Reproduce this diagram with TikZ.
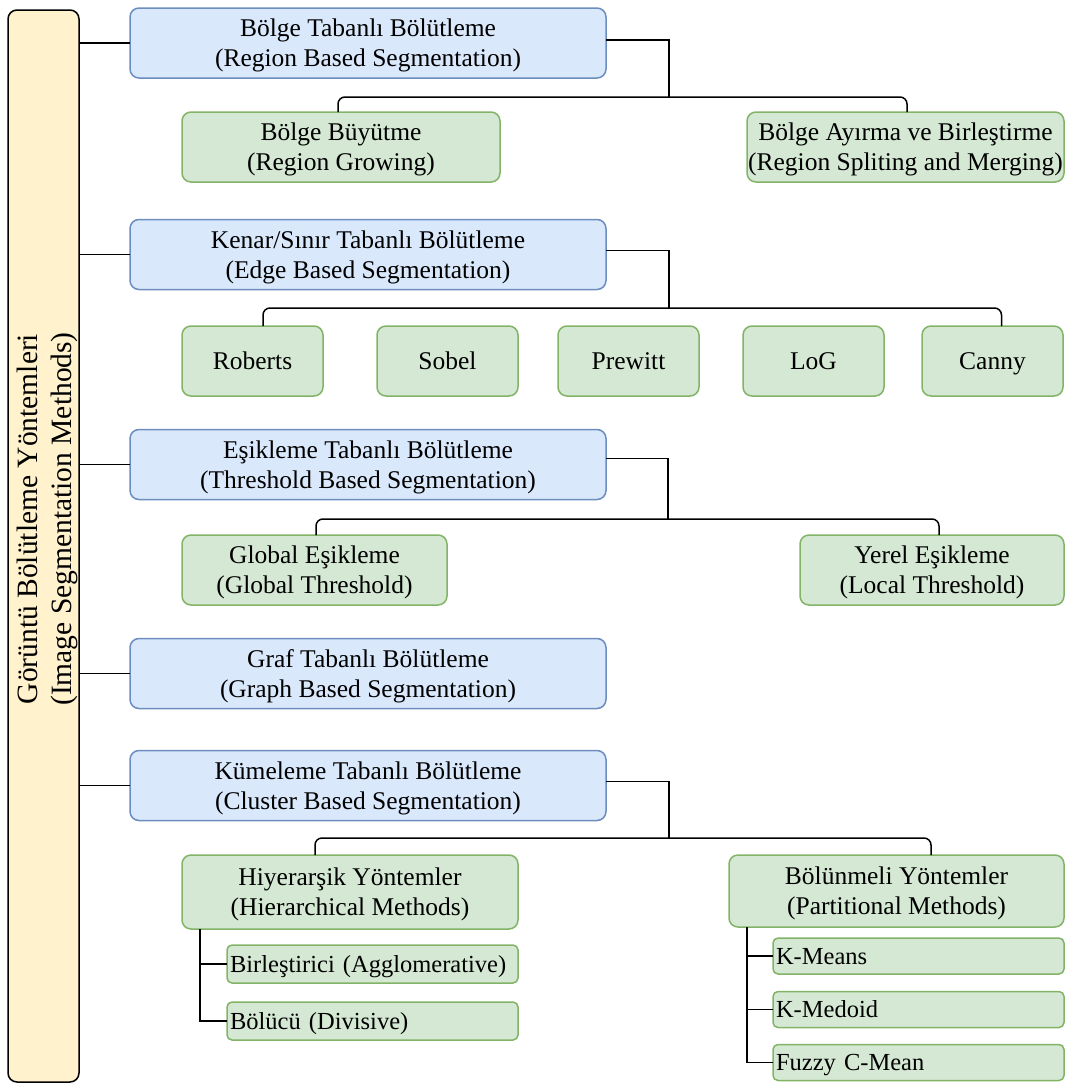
\documentclass[tikz,border=0pt]{standalone}
\usepackage{fontspec}
\setmainfont{Liberation Serif}
\definecolor{bluefill}{HTML}{DAE8FC}
\definecolor{bluedraw}{HTML}{6C8EBF}
\definecolor{greenfill}{HTML}{D5E8D4}
\definecolor{greendraw}{HTML}{82B366}
\definecolor{barfill}{HTML}{FFF2CC}
\tikzset{
  base/.style={rounded corners=9pt, line width=1.5pt, inner sep=0pt, outer sep=0pt,
    align=center, font=\fontsize{25.5}{30}\selectfont, text height=47.5pt, text depth=0pt},
  oneline/.style={text height=17.5pt, text depth=0pt},
  bluebox/.style={base, fill=bluefill, draw=bluedraw, minimum width=476pt, minimum height=70pt},
  greenbox/.style={base, fill=greenfill, draw=greendraw, minimum height=70pt},
  leafbox/.style={base, fill=greenfill, draw=greendraw, rounded corners=5pt, anchor=west,
    align=left, inner xsep=3pt, text width=285pt, font=\fontsize{24.5}{28}\selectfont,
    text height=16.5pt, text depth=0pt},
  barbox/.style={rounded corners=9pt, line width=1.5pt, draw=black, fill=barfill,
    inner sep=0pt, outer sep=0pt, minimum width=71pt, minimum height=1072pt},
  conn/.style={line width=1.5pt, draw=black},
}
\begin{document}
\begin{tikzpicture}[x=1pt,y=-1pt]
\useasboundingbox (0,0) rectangle (1065,1084);
% left bar
\node[barbox] (bar) at (43.5,546) {};
\node[rotate=90, align=center, font=\fontsize{29.5}{34}\selectfont] (bartext) at (47,519)
  {Görüntü Bölütleme Yöntemleri\\(Image Segmentation Methods)};
% main categories
\node[bluebox] (b1) at (368,43) {Bölge Tabanlı Bölütleme\\(Region Based Segmentation)};
\node[bluebox] (b2) at (368,254.5) {Kenar/Sınır Tabanlı Bölütleme\\(Edge Based Segmentation)};
\node[bluebox] (b3) at (368,464.5) {Eşikleme Tabanlı Bölütleme\\(Threshold Based Segmentation)};
\node[bluebox] (b4) at (368,673.5) {Graf Tabanlı Bölütleme\\(Graph Based Segmentation)};
\node[bluebox] (b5) at (368,785.5) {Kümeleme Tabanlı Bölütleme\\(Cluster Based Segmentation)};
% region
\node[greenbox, minimum width=318pt] (g11) at (341,147) {Bölge Büyütme\\(Region Growing)};
\node[greenbox, minimum width=317pt] (g12) at (905.5,147) {Bölge Ayırma ve Birleştirme\\(Region Spliting and Merging)};
% edge
\node[greenbox, oneline, minimum width=141pt] (roberts) at (252.5,361) {Roberts};
\node[greenbox, oneline, minimum width=141pt] (sobel) at (447.5,361) {Sobel};
\node[greenbox, oneline, minimum width=141pt] (prewitt) at (628.5,361) {Prewitt};
\node[greenbox, oneline, minimum width=141pt] (log) at (813.5,361) {LoG};
\node[greenbox, oneline, minimum width=141pt] (canny) at (992.5,361) {Canny};
% threshold
\node[greenbox, minimum width=265pt] (global) at (314.5,570) {Global Eşikleme\\(Global Threshold)};
\node[greenbox, minimum width=264pt] (yerel) at (932,570) {Yerel Eşikleme\\(Local Threshold)};
% cluster
\node[greenbox, minimum width=336pt, minimum height=74pt] (hier) at (350,892) {Hiyerarşik Yöntemler\\(Hierarchical Methods)};
\node[greenbox, minimum width=335pt, minimum height=72pt] (bolun) at (896.5,891) {Bölünmeli Yöntemler\\(Partitional Methods)};
\node[leafbox, minimum height=38pt] (h1) at (227,964) {Birleştirici (Agglomerative)};
\node[leafbox, minimum height=38pt] (h2) at (227,1021) {Bölücü (Divisive)};
\node[leafbox, minimum height=36pt] (p1) at (773,956) {K-Means};
\node[leafbox, minimum height=36pt] (p2) at (773,1009.5) {K-Medoid};
\node[leafbox, minimum height=36pt] (p3) at (773,1062.5) {Fuzzy C-Mean};
% bar connectors
\foreach \b in {b1,b2,b3,b4,b5}{
  \draw[conn] (bar.east |- \b.west) -- (\b.west);
}
% bus junctions
\coordinate (j1) at (669,97);
\coordinate (j2) at (669,308);
\coordinate (j3) at (668,519);
\coordinate (j5) at (669,838);
\draw[conn] ([yshift=3pt]b1.east) -| (j1);
\draw[conn, rounded corners=7pt] ([xshift=-3pt]g11.north) |- (j1) -| ([xshift=1.5pt]g12.north);
\draw[conn] ([yshift=4pt]b2.east) -| (j2);
\draw[conn, rounded corners=7pt] ([xshift=10.5pt]roberts.north) |- (j2) -| ([xshift=9pt]canny.north);
\draw[conn] ([yshift=6pt]b3.east) -| (j3);
\draw[conn, rounded corners=7pt] ([xshift=1.5pt]global.north) |- (j3) -| ([xshift=7pt]yerel.north);
\draw[conn] ([yshift=4pt]b5.east) -| (j5);
\draw[conn, rounded corners=7pt] ([xshift=-35pt]hier.north) |- (j5) -| ([xshift=34.5pt]bolun.north);
% sub lists
\draw[conn] ([xshift=-150pt]hier.south) |- (h2.west);
\draw[conn] ([xshift=-150pt]hier.south) |- (h1.west);
\draw[conn] ([xshift=-149.5pt]bolun.south) |- (p3.west);
\draw[conn] ([xshift=-149.5pt]bolun.south) |- (p2.west);
\draw[conn] ([xshift=-149.5pt]bolun.south) |- (p1.west);
\end{tikzpicture}
\end{document}
